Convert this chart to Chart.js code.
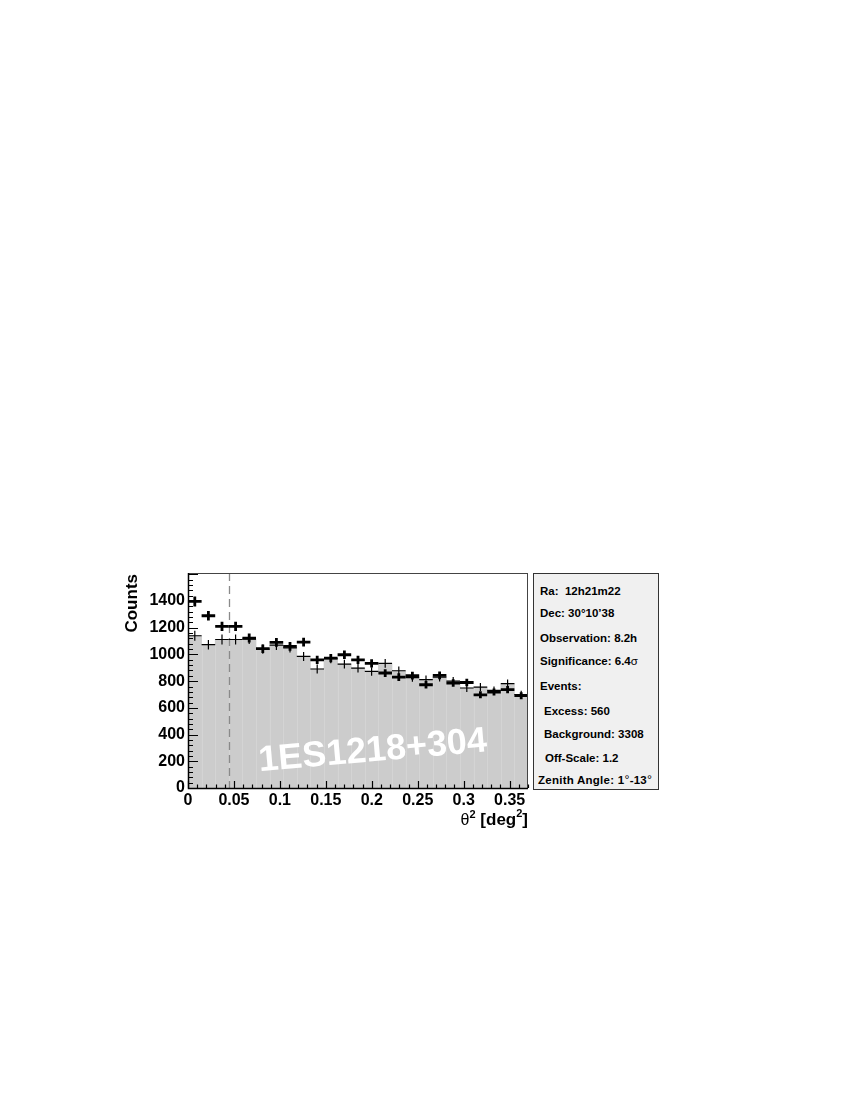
<!DOCTYPE html>
<html><head><meta charset="utf-8">
<script src="https://cdn.jsdelivr.net/npm/chart.js@4.4.1/dist/chart.umd.min.js"></script>
<style>
html,body{margin:0;padding:0;background:#fff;}
#wrap{position:relative;width:850px;height:1100px;overflow:hidden;}
canvas{position:absolute;left:0;top:0;}
#info{position:absolute;left:533px;top:573px;width:124px;height:215px;background:#f0f0f0;border:1px solid #333;
  font-family:"Liberation Sans",Arial,Helvetica,sans-serif;font-weight:bold;font-size:11.5px;color:#000;}
#info div{position:absolute;white-space:pre;line-height:12px;}
#info .sym{font-weight:normal;}
#info .deg{font-weight:normal;font-size:12.5px;}
</style></head>
<body>
<div id="wrap">
<canvas id="c" width="850" height="1100"></canvas>
<div id="info">
  <div style="left:6px;top:11px">Ra:  12h21m22</div>
  <div style="left:6px;top:33px">Dec: 30°10’38</div>
  <div style="left:6px;top:58px">Observation: 8.2h</div>
  <div style="left:6px;top:81px">Significance: 6.4<span class="sym">σ</span></div>
  <div style="left:6px;top:106px">Events:</div>
  <div style="left:10px;top:131px">Excess: 560</div>
  <div style="left:10px;top:154px">Background: 3308</div>
  <div style="left:11px;top:178px">Off-Scale: 1.2</div>
  <div style="left:4px;top:200px;letter-spacing:0.25px">Zenith Angle: 1<span class="deg">°</span>-13<span class="deg">°</span></div>
</div>
</div>
<script>
// ---- data ----
const binWidth = 0.0148;
const binCenters = [0.0074,0.0222,0.0370,0.0518,0.0666,0.0814,0.0962,0.1110,0.1258,0.1406,
  0.1554,0.1702,0.1850,0.1998,0.2146,0.2294,0.2442,0.2590,0.2738,0.2886,0.3034,0.3182,0.3330,0.3478,0.3626];
const onCounts = [1397,1290,1210,1210,1123,1043,1090,1060,1093,960,973,998,960,933,861,831,841,773,843,786,790,698,719,736,691];
const onErrors = [37,36,35,35,34,32,33,33,33,31,31,32,31,31,29,29,29,28,29,28,28,26,27,27,26];
const offCounts = [1140,1073,1112,1112,1115,1040,1070,1050,985,891,968,928,898,873,933,878,826,811,830,800,749,756,731,781,700];
const offErrors = [37,36,37,37,37,35,36,35,34,33,34,33,33,32,33,32,31,31,32,31,30,30,30,31,29];
const xTicks = [0,0.05,0.1,0.15,0.2,0.25,0.3,0.35];
const yTicks = [0,200,400,600,800,1000,1200,1400];
const thetaCut = 0.045;
const sourceName = '1ES1218+304';

const FONT = '"Liberation Sans", Arial, Helvetica, sans-serif';

const overlay = {
  id:'overlay',
  afterDatasetsDraw(chart){
    const ctx = chart.ctx, a = chart.chartArea, xs = chart.scales.x, ys = chart.scales.y;
    ctx.save();
    ctx.beginPath(); ctx.rect(a.left, a.top, a.right-a.left, a.bottom-a.top); ctx.clip();
    // faint bin separators
    ctx.strokeStyle = 'rgba(255,255,255,0.16)'; ctx.lineWidth = 1;
    for (let i=1;i<binCenters.length;i++){
      const ex = Math.round(xs.getPixelForValue(binCenters[i]-binWidth/2))+0.5;
      const top = ys.getPixelForValue(Math.min(offCounts[i-1], offCounts[i]));
      ctx.beginPath(); ctx.moveTo(ex, a.bottom); ctx.lineTo(ex, top); ctx.stroke();
    }
    // watermark
    ctx.save();
    ctx.translate(xs.getPixelForValue(0.201), ys.getPixelForValue(275));
    ctx.rotate(-5*Math.PI/180);
    ctx.fillStyle = '#ffffff';
    ctx.font = 'bold 36px ' + FONT;
    ctx.textAlign = 'center'; ctx.textBaseline = 'middle';
    ctx.fillText(sourceName, 0, 0);
    ctx.restore();
    // cut line
    const cx = Math.round(xs.getPixelForValue(thetaCut))+0.5;
    ctx.strokeStyle = '#8a8a8a'; ctx.lineWidth = 1.3; ctx.setLineDash([8,5]);
    ctx.beginPath(); ctx.moveTo(cx, a.top); ctx.lineTo(cx, a.bottom); ctx.stroke();
    ctx.setLineDash([]);
    ctx.restore();
    // crosses
    const drawCrosses = (vals, errs, lw) => {
      ctx.save(); ctx.strokeStyle = '#000'; ctx.lineWidth = lw; ctx.lineCap = 'butt';
      vals.forEach((v,i)=>{
        const x0 = xs.getPixelForValue(binCenters[i]-binWidth/2);
        const x1 = xs.getPixelForValue(binCenters[i]+binWidth/2);
        const xc = xs.getPixelForValue(binCenters[i]);
        const y = ys.getPixelForValue(v);
        const yl = ys.getPixelForValue(v-errs[i]), yh = ys.getPixelForValue(v+errs[i]);
        ctx.beginPath(); ctx.moveTo(x0,y); ctx.lineTo(x1,y); ctx.moveTo(xc,yl); ctx.lineTo(xc,yh); ctx.stroke();
      });
      ctx.restore();
    };
    drawCrosses(offCounts, offErrors, 1.2);
    drawCrosses(onCounts, onErrors, 2.8);
    // frame
    ctx.save();
    ctx.strokeStyle = '#444'; ctx.lineWidth = 1;
    ctx.strokeRect(a.left+0.5, a.top+0.5, a.right-a.left-1, a.bottom-a.top);
    ctx.strokeStyle = '#000'; ctx.lineWidth = 1.5;
    ctx.beginPath(); ctx.moveTo(a.left+0.5, a.top); ctx.lineTo(a.left+0.5, a.bottom+0.5); ctx.lineTo(a.right, a.bottom+0.5); ctx.stroke();
    // ticks
    ctx.lineWidth = 1.2;
    ctx.beginPath();
    for (let v=0; v<=ys.max+1e-9; v+=40){
      const y = Math.round(ys.getPixelForValue(v))+0.5;
      const len = (Math.round(v)%200===0) ? 10 : 5;
      ctx.moveTo(a.left, y); ctx.lineTo(a.left+len, y);
    }
    for (let k=0; k*0.01<=xs.max+1e-9; k++){
      const x = Math.round(xs.getPixelForValue(k*0.01))+0.5;
      const len = (k%5===0) ? 7 : 3.5;
      ctx.moveTo(x, a.bottom); ctx.lineTo(x, a.bottom-len);
    }
    ctx.stroke();
    // axis titles
    ctx.fillStyle = '#000';
    ctx.save();
    ctx.translate(137, a.top+1); ctx.rotate(-Math.PI/2);
    ctx.font = 'bold 17px ' + FONT; ctx.textAlign = 'right'; ctx.textBaseline = 'alphabetic';
    ctx.fillText('Counts', 0, 0);
    ctx.restore();
    // x title: θ² [deg²] right aligned at chart right
    const parts = [
      {t:'θ', f:'16px ' + FONT, dy:0},
      {t:'2', f:'bold 11px ' + FONT, dy:-7},
      {t:' [deg', f:'bold 17px ' + FONT, dy:0},
      {t:'2', f:'bold 11px ' + FONT, dy:-8},
      {t:']', f:'bold 17px ' + FONT, dy:0}
    ];
    let total = 0;
    parts.forEach(p=>{ ctx.font = p.f; p.w = ctx.measureText(p.t).width; total += p.w; });
    let px = a.right - total; const base = 825;
    ctx.textAlign = 'left'; ctx.textBaseline = 'alphabetic';
    parts.forEach(p=>{ ctx.font = p.f; ctx.fillText(p.t, px, base+p.dy); px += p.w; });
    ctx.restore();
  }
};

new Chart(document.getElementById('c').getContext('2d'), {
  type:'bar',
  data:{datasets:[{
    label:'OFF',
    data: binCenters.map((x,i)=>({x, y:offCounts[i]})),
    backgroundColor:'#cccccc', borderWidth:0,
    barPercentage:1, categoryPercentage:1
  }]},
  options:{
    responsive:false, animation:false, devicePixelRatio:1,
    layout:{padding:{left:118, top:573, right:322, bottom:270}},
    plugins:{legend:{display:false}, tooltip:{enabled:false}, title:{display:false}},
    scales:{
      x:{type:'linear', min:0, max:0.37, offset:false,
        grid:{display:false, drawTicks:false}, border:{display:false},
        afterBuildTicks:s=>{ s.ticks = xTicks.map(v=>({value:v})); },
        afterFit:s=>{ s.height = 42; },
        ticks:{autoSkip:false, maxRotation:0, padding:3, color:'#000',
          font:{family:FONT, weight:'bold', size:16}, callback:v=>String(v)}},
      y:{type:'linear', min:0, max:1610,
        grid:{display:false, drawTicks:false}, border:{display:false},
        afterBuildTicks:s=>{ s.ticks = yTicks.map(v=>({value:v})); },
        afterFit:s=>{ s.width = 70; },
        ticks:{autoSkip:false, padding:3, color:'#000',
          font:{family:FONT, weight:'bold', size:16}, callback:v=>String(v)}}
    }
  },
  plugins:[overlay]
});
</script>
</body></html>
